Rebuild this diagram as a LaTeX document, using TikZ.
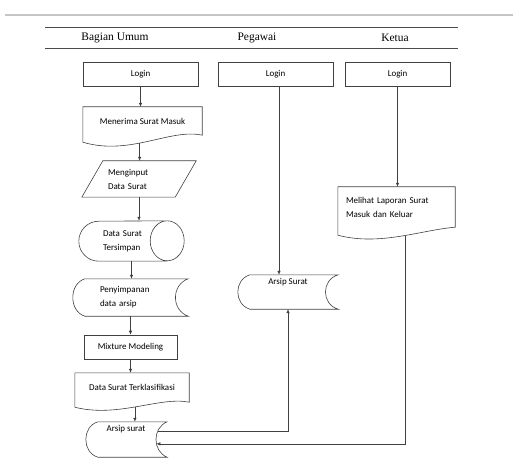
\documentclass[tikz,border=0pt]{standalone}
\usepackage{fontspec}
\setmainfont{Liberation Serif}
\newfontfamily\boxfont{Carlito}
\usetikzlibrary{arrows.meta,calc}

\begin{document}
\begin{tikzpicture}[
    x=1bp, y=-1bp,
    box/.style={rectangle, draw=black!75, line width=0.6bp, align=center, font=\boxfont\fontsize{9}{14}\selectfont},
    sym/.style={rectangle, align=left, inner sep=0pt, font=\boxfont\fontsize{9}{14}\selectfont},
    outline/.style={draw=black!75, line width=0.6bp},
    arrow/.style={-{Latex[length=4bp,width=3.5bp]}, draw=black!75, line width=0.6bp},
    lane/.style={font=\fontsize{11.5}{13}\selectfont}
]
    \useasboundingbox (0,0) rectangle (515,467);

    % lanes
    \draw[gray!45, line width=2bp] (5,15) -- (513,15);
    \draw[black!70, line width=0.6bp] (45,27) -- (458,27);
    \draw[black!70, line width=0.6bp] (45,48) -- (458,48);
    \node[lane] (umum) at (115,37.5) {Bagian Umum};
    \node[lane] (pegawai) at (257,37.5) {Pegawai};
    \node[lane] (ketua) at (395,37.5) {Ketua};

    % Bagian Umum
    \node[box, minimum width=115bp, minimum height=24bp] (loginA) at (140.5,74) {Login};
    \node[sym, minimum width=119bp, minimum height=28bp] (terima) at (142.5,121) {Menerima Surat Masuk};
    \draw[outline] (terima.south west) -- (terima.north west) -- (terima.north east) -- (terima.south east)
        .. controls +(-32,-7) and +(47,14) .. coordinate[pos=0.57] (terimaW) ($(terima.south west)+(0,7)$) -- cycle;
    \node[sym, minimum width=114bp, minimum height=36bp, text width=62bp] (input) at (139,179) {Menginput\\Data Surat};
    \draw[outline] ([xshift=21bp]input.north west) -- (input.north east) -- ([xshift=-21bp]input.south east) -- (input.south west) -- cycle;
    \node[sym, minimum width=105bp, minimum height=40bp, text width=57bp] (simpan) at (131.5,241) {Data Surat\\Tersimpan};
    \draw[outline] ([xshift=-17bp]simpan.south east) -- ([xshift=20bp]simpan.south west) arc[start angle=90, end angle=270, radius=20]
        -- ([xshift=-17bp]simpan.north east) arc[start angle=270, end angle=-90, x radius=17, y radius=20];
    \node[sym, minimum width=115bp, minimum height=37bp, text width=61bp] (arsipA) at (130.5,297.5) {Penyimpanan\\data arsip};
    \draw[outline] ([xshift=12bp]arsipA.north west) -- (arsipA.north east) .. controls +(-17,6) and +(-17,-6) .. (arsipA.south east)
        -- ([xshift=12bp]arsipA.south west) .. controls +(-16,-5) and +(-16,5) .. ([xshift=12bp]arsipA.north west) -- cycle;
    \node[box, minimum width=93bp, minimum height=24bp] (mixture) at (130.5,347) {Mixture Modeling};
    \node[sym, minimum width=114bp, minimum height=29bp] (klasif) at (132,387.5) {Data Surat Terklasifikasi};
    \draw[outline] (klasif.south west) -- (klasif.north west) -- (klasif.north east) -- (klasif.south east)
        .. controls +(-29,-6) and +(43,11) .. coordinate[pos=0.52] (klasifW) ($(klasif.south west)+(0,5)$) -- cycle;
    \node[sym, minimum width=82bp, minimum height=35bp, text height=9bp, text depth=26bp] (arsipB) at (126,439.5) {Arsip surat};
    \draw[outline] ([xshift=13bp]arsipB.north west) -- (arsipB.north east) .. controls +(-15,6) and +(-15,-6) ..
        coordinate[pos=0.3] (arsipBout) coordinate[pos=0.6] (arsipBin) (arsipB.south east)
        -- ([xshift=13bp]arsipB.south west) .. controls +(-16,-5) and +(-16,5) .. ([xshift=13bp]arsipB.north west) -- cycle;

    \draw[arrow] (loginA.south) -- (loginA.south |- terima.north);
    \draw[arrow] (terimaW) -- (terimaW |- input.north);
    \draw[arrow] (input.south) -- (input.south |- simpan.north);
    \draw[arrow] (simpan.south) -- (simpan.south |- arsipA.north);
    \draw[arrow] (arsipA.south) -- (arsipA.south |- mixture.north);
    \draw[arrow] (mixture.south) -- (mixture.south |- klasif.north);
    \draw[arrow] (klasifW) -- (klasifW |- arsipB.north);

    % Pegawai
    \node[box, minimum width=115bp, minimum height=24bp] (loginB) at (275.5,74) {Login};
    \node[sym, minimum width=100bp, minimum height=34bp, text height=9bp, text depth=25bp] (arsipC) at (288,292) {Arsip Surat};
    \draw[outline] ([xshift=12bp]arsipC.north west) -- (arsipC.north east) .. controls +(-17,5) and +(-17,-5) .. (arsipC.south east)
        -- ([xshift=12bp]arsipC.south west) .. controls +(-16,-5) and +(-16,5) .. ([xshift=12bp]arsipC.north west) -- cycle;
    \draw[arrow] ([xshift=3.5bp]loginB.south) -- ([xshift=3.5bp]loginB.south |- arsipC.north);
    \draw[arrow] (arsipBout) -| (arsipC.south);

    % Ketua
    \node[box, minimum width=105bp, minimum height=24bp] (loginC) at (397.5,74) {Login};
    \node[sym, minimum width=117bp, minimum height=40bp, text width=101bp] (lihat) at (396.5,207) {Melihat Laporan Surat\\Masuk dan Keluar};
    \draw[outline] (lihat.south west) -- (lihat.north west) -- (lihat.north east) -- (lihat.south east)
        .. controls +(-35,3) and +(42,11) .. coordinate[pos=0.45] (lihatW) ($(lihat.south west)+(0,8)$) -- cycle;
    \draw[arrow] (loginC.south) -- (loginC.south |- lihat.north);
    \draw[arrow] (lihatW) |- (arsipBin);
\end{tikzpicture}
\end{document}
